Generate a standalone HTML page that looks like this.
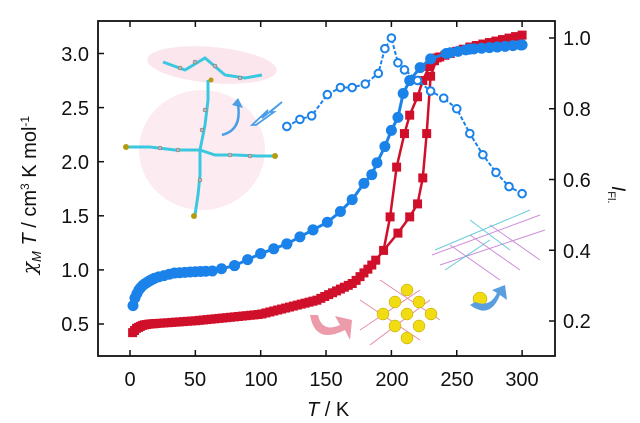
<!DOCTYPE html>
<html><head><meta charset="utf-8"><style>
html,body{margin:0;padding:0;background:#fff;width:640px;height:423px;overflow:hidden}
text{font-family:"Liberation Sans",Arial,sans-serif;fill:#111}
</style></head><body>
<svg id="s" width="640" height="423" viewBox="0 0 640 423" xmlns="http://www.w3.org/2000/svg">
<ellipse cx="212" cy="65" rx="65" ry="18" fill="#fbe6ee" transform="rotate(5 212 65)"/>
<ellipse cx="202" cy="150" rx="63" ry="60" fill="#fcecf1"/>
<g stroke="#3ac8e0" stroke-width="3" fill="none">
<path d="M163 62 L185 70 L205 58 L225 75 L245 78 L262 75"/>
<path d="M208 80 L208 100 L205 125 L200 150 L200 175 L198 195 L195 215"/>
<path d="M128 147 L150 147 L175 150 L200 150 L215 155 L235 155 L258 156 L275 156"/>
</g>
<g fill="#bbb" stroke="#666" stroke-width="0.5">
<circle cx="180" cy="68" r="2"/><circle cx="195" cy="62" r="2"/><circle cx="215" cy="66" r="2"/><circle cx="240" cy="78" r="2"/>
<circle cx="205" cy="110" r="2"/><circle cx="202" cy="130" r="2"/><circle cx="160" cy="148" r="2"/><circle cx="178" cy="150" r="2"/>
<circle cx="230" cy="155" r="2"/><circle cx="250" cy="156" r="2"/><circle cx="200" cy="180" r="2"/>
</g>
<g fill="#b59b10"><circle cx="126" cy="147" r="3"/><circle cx="275" cy="156" r="3"/><circle cx="194" cy="216" r="3"/><circle cx="211" cy="80" r="2.5"/></g>
<path d="M222 135 Q242 130 238 105" stroke="#4a9ee8" stroke-width="2.5" fill="none"/>
<path d="M232 105 L238 98 L243 108 Z" fill="#4a9ee8"/>
<path d="M252 125 L268 110 L262 118 L282 102 L270 112 L274 112 L256 125 Z" fill="none" stroke="#4a9ee8" stroke-width="1.8"/>
<g stroke="#e07090" stroke-width="1" opacity="0.8"><path d="M360 300 L420 340 M380 280 L440 320 M360 330 L420 290 M370 345 L430 300"/></g>
<g stroke="#c070d0" stroke-width="1" opacity="0.8"><path d="M432 255 L540 215 M440 265 L545 230 M450 245 L500 280 M470 235 L520 270 M490 225 L540 260"/></g>
<g stroke="#40c0d0" stroke-width="1" opacity="0.8"><path d="M435 250 L530 210 M445 270 L490 240 M470 220 L510 250"/></g>
<g fill="#f0dc10" stroke="#b8a000" stroke-width="0.5">
<circle cx="407" cy="290" r="6"/><circle cx="395" cy="302" r="6"/><circle cx="419" cy="302" r="6"/><circle cx="383" cy="314" r="6"/>
<circle cx="407" cy="314" r="6"/><circle cx="431" cy="314" r="6"/><circle cx="395" cy="326" r="6"/><circle cx="419" cy="326" r="6"/><circle cx="407" cy="338" r="6"/>
<circle cx="480" cy="299" r="7"/></g>
<path d="M310 315 Q315 345 345 330 L350 340 L352 320 L335 316 L340 325 Q322 333 318 315 Z" fill="#e88a9a" opacity="0.85"/>
<path d="M470 305 Q490 320 500 295 L507 300 L505 285 L492 290 L497 293 Q490 308 475 302 Z" fill="#5a9ee0"/>
<rect x="98" y="21" width="457" height="335" fill="none" stroke="#111" stroke-width="1.8"/>
<g id="ticks" stroke="#111" stroke-width="1.5"></g>
<g id="data"></g>
<g font-size="20">
<text x="130" y="386" text-anchor="middle">0</text>
<text x="195" y="386" text-anchor="middle">50</text>
<text x="261" y="386" text-anchor="middle">100</text>
<text x="326" y="386" text-anchor="middle">150</text>
<text x="392" y="386" text-anchor="middle">200</text>
<text x="457" y="386" text-anchor="middle">250</text>
<text x="522" y="386" text-anchor="middle">300</text>
<text x="89" y="61" text-anchor="end">3.0</text>
<text x="89" y="115" text-anchor="end">2.5</text>
<text x="89" y="169" text-anchor="end">2.0</text>
<text x="89" y="223" text-anchor="end">1.5</text>
<text x="89" y="277" text-anchor="end">1.0</text>
<text x="89" y="331" text-anchor="end">0.5</text>
<text x="563" y="45">1.0</text>
<text x="563" y="116">0.8</text>
<text x="563" y="187">0.6</text>
<text x="563" y="258">0.4</text>
<text x="563" y="328">0.2</text>
</g>
<text x="307" y="416" font-size="20"><tspan font-style="italic">T</tspan> / K</text>
<text transform="translate(36 195) rotate(-90)" font-size="20" text-anchor="middle"><tspan font-style="italic" font-family="DejaVu Serif,serif">χ</tspan><tspan font-size="13" dy="5" font-style="italic">M</tspan><tspan dy="-5" font-style="italic"> T</tspan> / cm<tspan font-size="12" dy="-7">3</tspan><tspan dy="7"> K mol</tspan><tspan font-size="12" dy="-7">-1</tspan></text>
<text transform="translate(612 186) rotate(90)" font-size="19"><tspan font-style="italic">I</tspan><tspan font-size="11" dy="4">Fl.</tspan></text>
</svg>
<script>
const NS="http://www.w3.org/2000/svg";
const X=T=>130+T*1.307, YL=v=>324-(v-0.5)*108.2, YR=v=>321-(v-0.2)*353.75;
const t=document.getElementById('ticks'), d=document.getElementById('data');
function el(n,a,p){const e=document.createElementNS(NS,n);for(const k in a)e.setAttribute(k,a[k]);(p||d).appendChild(e);return e;}
for(let T=0;T<=300;T+=50){el('line',{x1:X(T),x2:X(T),y1:21,y2:27},t);el('line',{x1:X(T),x2:X(T),y1:356,y2:350},t);}
for(let v=0.5;v<=3.01;v+=0.5){el('line',{x1:98,x2:104,y1:YL(v),y2:YL(v)},t);}
for(let v=0.2;v<=1.01;v+=0.2){el('line',{x1:555,x2:549,y1:YR(v),y2:YR(v)},t);}
function interp(pts,T){if(T<=pts[0][0])return pts[0][1];for(let i=0;i<pts.length-1;i++){if(T>=pts[i][0]&&T<=pts[i+1][0]){const f=(T-pts[i][0])/(pts[i+1][0]-pts[i][0]);return pts[i][1]+f*(pts[i+1][1]-pts[i][1]);}}return pts[pts.length-1][1];}
const redA=[[2,0.42],[5,0.46],[10,0.49],[15,0.5],[50,0.53],[100,0.59],[143,0.72],[171,0.88],[184,1.03],[194,1.18],[199,1.49],[204,1.95],[210,2.26],[214,2.43],[220,2.6],[224,2.75],[229,2.88],[235,2.96],[260,3.06],[300,3.17]];
const redB=[[194,1.18],[205,1.34],[214,1.49],[220,1.61],[224,1.85],[227,2.26],[230,2.79],[235,2.96]];
function line(pts,col,w,Y){el('polyline',{points:pts.map(p=>X(p[0])+','+Y(p[1])).join(' '),fill:'none',stroke:col,'stroke-width':w});}
line(redA,'#d0102a',2.5,YL);line(redB,'#d0102a',2.5,YL);
const rq=[];for(let T=2;T<=190;T+=T<20?1.5:3)rq.push([T,interp(redA,T)]);
for(const T of [199,204,210,214,220,224,229,233,237,241,245,250,255,260,265,270,275,280,285,290,295,300])rq.push([T,interp(redA,T)]);
for(const p of redB)rq.push(p);
for(const p of rq)el('rect',{x:X(p[0])-4.5,y:YL(p[1])-4.5,width:9,height:9,fill:'#d0102a'});
const blue=[[2.3,0.67],[4,0.75],[7,0.82],[10,0.86],[15,0.9],[20,0.93],[27,0.95],[33,0.97],[45,0.98],[63,0.99],[80,1.04],[100,1.15],[120,1.24],[140,1.37],[151,1.44],[161,1.54],[170,1.65],[179,1.8],[185,1.88],[189,1.99],[195,2.14],[200,2.29],[205,2.41],[209,2.63],[214,2.75],[222,2.87],[230,2.95],[242,3.0],[260,3.04],[281,3.06],[300,3.08]];
line(blue,'#1a82e8',3,YL);
const bp=[];for(let T=2.3;T<=20;T+=1.5)bp.push([T,interp(blue,T)]);for(let T=22;T<=60;T+=4)bp.push([T,interp(blue,T)]);
for(let T=70;T<150;T+=10)bp.push([T,interp(blue,T)]);
for(const p of blue)if(p[0]>60)bp.push(p);for(let T=245;T<=300;T+=6)bp.push([T,interp(blue,T)]);
for(const p of bp)el('circle',{cx:X(p[0]),cy:YL(p[1]),r:5.5,fill:'#1a82e8'});
const op=[[120,0.75],[130,0.77],[139,0.78],[151,0.84],[161,0.86],[170,0.86],[180,0.87],[190,0.9],[195,0.97],[200,1.0],[205,0.93],[210,0.91],[220,0.88],[230,0.85],[240,0.83],[250,0.8],[260,0.73],[270,0.67],[280,0.62],[290,0.58],[300,0.56]];
el('polyline',{points:op.map(p=>X(p[0])+','+YR(p[1])).join(' '),fill:'none',stroke:'#1a82e8','stroke-width':2,'stroke-dasharray':'4 2'});
for(const p of op)el('circle',{cx:X(p[0]),cy:YR(p[1]),r:3.8,fill:'#fff',stroke:'#1a82e8','stroke-width':2});
</script>
</body></html>
